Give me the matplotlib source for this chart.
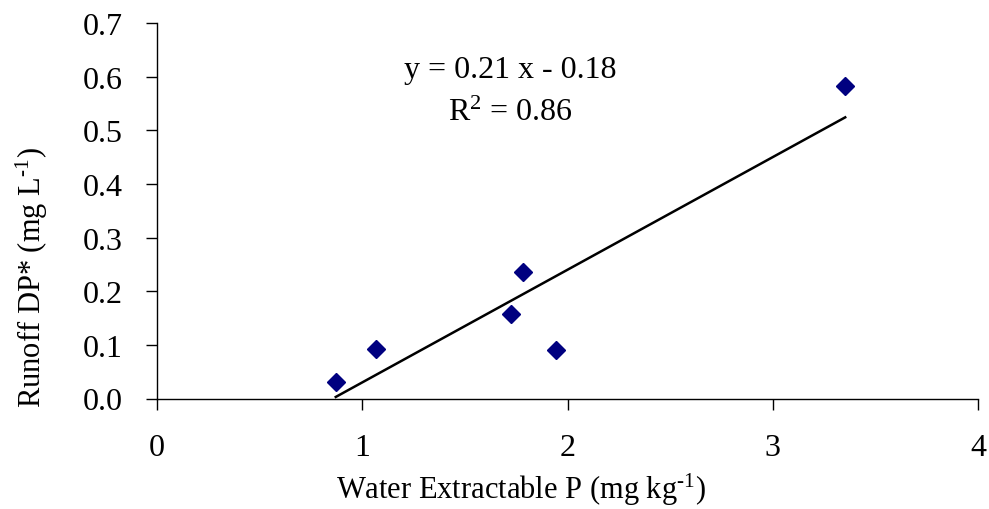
import numpy as np
import matplotlib
matplotlib.use("Agg")
import matplotlib.pyplot as plt

# Data
water_p = [0.871, 1.066, 1.723, 1.781, 1.942, 3.353]
runoff_dp = [0.030, 0.093, 0.158, 0.236, 0.090, 0.582]
slope = 0.21
intercept = -0.18
r_squared = 0.86

x_ticks = [0, 1, 2, 3, 4]
y_ticks = [0.0, 0.1, 0.2, 0.3, 0.4, 0.5, 0.6, 0.7]

plt.rcParams['font.family'] = ['Liberation Serif', 'DejaVu Serif']
plt.rcParams['mathtext.fontset'] = 'custom'
plt.rcParams['mathtext.rm'] = 'Liberation Serif'
plt.rcParams['mathtext.it'] = 'Liberation Serif:italic'

fig = plt.figure(figsize=(9.89, 5.10), dpi=100)
ax = fig.add_axes([157/989, 1 - 399.5/510, (978 - 157)/989, (399.5 - 24)/510])

# scatter points
ax.plot(water_p, runoff_dp, linestyle='none', marker='D', markersize=9,
        color='#000080', markeredgecolor='#000080', zorder=3)

# trend line over the range of the data
xs = np.array([min(water_p), max(water_p)])
ax.plot(xs, slope * xs + intercept, color='black', linewidth=1.8, zorder=2)

ax.text(1.72, 0.613, 'y = %.2f x - %.2f' % (slope, -intercept),
        ha='center', va='center', fontsize=23)
ax.text(1.72, 0.533, 'R$^2$ = %.2f' % r_squared,
        ha='center', va='center', fontsize=23)

ax.set_xlim(0, 4)
ax.set_ylim(0, 0.7)
ax.set_xticks(x_ticks)
ax.set_xticklabels([str(t) for t in x_ticks])
ax.set_yticks(y_ticks)
ax.set_yticklabels(['%.1f' % t for t in y_ticks])

ax.spines['top'].set_visible(False)
ax.spines['right'].set_visible(False)
ax.spines['left'].set_linewidth(1.0)
ax.spines['bottom'].set_linewidth(1.0)
ax.tick_params(direction='out', length=8, width=1.0, labelsize=23, pad=17)

ax.set_xlabel(r'Water Extractable P (mg kg$^{\text{-1}}$)', fontsize=22)
ax.set_ylabel(r'Runoff DP* (mg L$^{\text{-1}}$)', fontsize=22)
ax.xaxis.label.set_va('center')
ax.yaxis.label.set_va('center')
ax.yaxis.label.set_ha('center')
ax.xaxis.set_label_coords(0.443, -0.241)
ax.yaxis.set_label_coords(-0.152, 0.326)

fig.savefig('out.png', dpi=100)
